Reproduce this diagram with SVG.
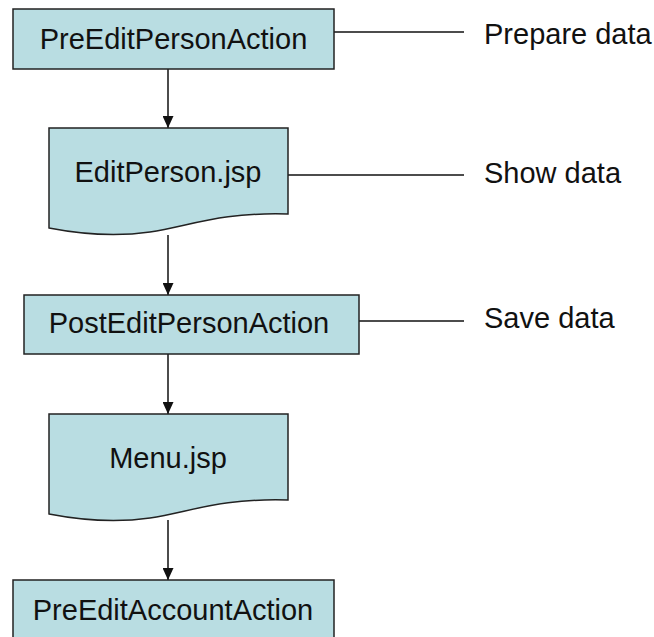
<svg xmlns="http://www.w3.org/2000/svg" width="654" height="637" viewBox="0 0 654 637">
<style>
.box{fill:#b9dde2;stroke:#222;stroke-width:1.5}
.lbl{font-family:"Liberation Sans",Arial,sans-serif;font-size:29px;fill:#111;text-anchor:middle}
.side{font-family:"Liberation Sans",Arial,sans-serif;font-size:29px;fill:#111}
.con{stroke:#111;stroke-width:1.5;fill:none}
</style>
<defs>
<marker id="arr" viewBox="0 0 12 11" refX="12" refY="5.5" markerWidth="12" markerHeight="11" markerUnits="userSpaceOnUse" orient="auto">
<path d="M0,0 L12,5.5 L0,11 z" fill="#111"/>
</marker>
</defs>
<rect width="654" height="637" fill="#fff"/>
<g id="connectors">
<line class="con" x1="168" y1="69" x2="168" y2="128" marker-end="url(#arr)"/>
<line class="con" x1="168" y1="235" x2="168" y2="295" marker-end="url(#arr)"/>
<line class="con" x1="168" y1="354" x2="168" y2="414" marker-end="url(#arr)"/>
<line class="con" x1="168" y1="520" x2="168" y2="580" marker-end="url(#arr)"/>
<line class="con" x1="334" y1="32" x2="464" y2="32"/>
<line class="con" x1="288" y1="175" x2="464" y2="175"/>
<line class="con" x1="359" y1="321" x2="464" y2="321"/>
</g>
<g id="n1">
<rect class="box" x="13" y="9" width="321" height="60"/>
<text class="lbl" x="173.5" y="49">PreEditPersonAction</text>
</g>
<g id="n2">
<path class="box" d="M49,128 H288 V214 C220,212 190,226 150,232 C115,237 80,234 49,228 Z"/>
<text class="lbl" x="168" y="182">EditPerson.jsp</text>
</g>
<g id="n3">
<rect class="box" x="24" y="295" width="335" height="59"/>
<text class="lbl" x="189" y="333">PostEditPersonAction</text>
</g>
<g id="n4">
<path class="box" d="M49,414 H288 V500 C220,498 190,512 150,518 C115,523 80,520 49,514 Z"/>
<text class="lbl" x="168" y="468">Menu.jsp</text>
</g>
<g id="n5">
<rect class="box" x="13" y="580" width="321" height="62"/>
<text class="lbl" x="173" y="620">PreEditAccountAction</text>
</g>
<g id="labels">
<text class="side" x="484" y="44">Prepare data</text>
<text class="side" x="484" y="183">Show data</text>
<text class="side" x="484" y="328">Save data</text>
</g>
</svg>
